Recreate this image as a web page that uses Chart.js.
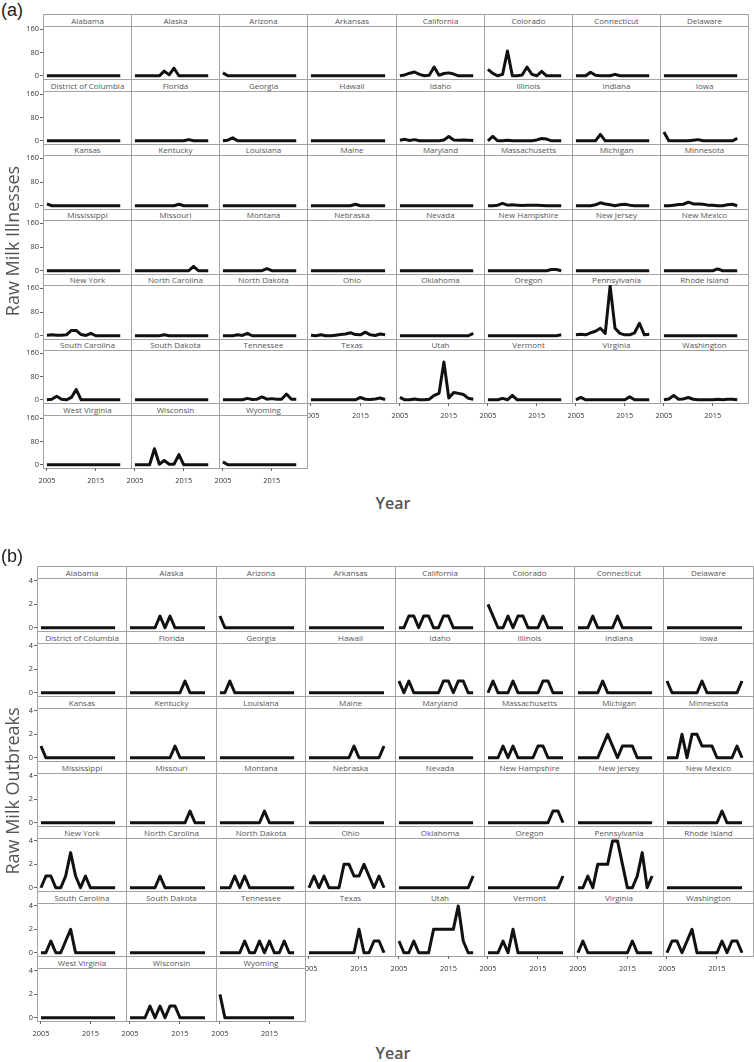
<!DOCTYPE html>
<html>
<head>
<meta charset="utf-8">
<script src="https://cdn.jsdelivr.net/npm/chart.js@4.4.1/dist/chart.umd.min.js"></script>
<style>
  body { margin: 0; background: #fff; }
  #page { position: relative; width: 754px; height: 1062px; overflow: hidden; font-family: "Open Sans", sans-serif; }
  .strip { position: absolute; box-sizing: border-box; border: 1px solid #a3a3a3; background: #fff; color: #555;
           font-size: 8px; text-align: center; white-space: nowrap; overflow: hidden; opacity: 0.999; }
  .plot { position: absolute; box-sizing: border-box; border: 1px solid #a3a3a3; background: #fff; }
  canvas { position: absolute; }
  .lbl { position: absolute; color: #555; white-space: nowrap; }
</style>
</head>
<body>
<div id="page"></div>
<script>
// data, one row per state, years 2005..2020
const years = [2005, 2006, 2007, 2008, 2009, 2010, 2011, 2012, 2013, 2014, 2015, 2016, 2017, 2018, 2019, 2020];
const yearTicks = [2005, 2015];
const illnessTicks = [0, 80, 160];
const outbreakTicks = [0, 2, 4];

const states = [
  'Alabama', 'Alaska', 'Arizona', 'Arkansas', 'California', 'Colorado', 'Connecticut', 'Delaware',
  'District of Columbia', 'Florida', 'Georgia', 'Hawaii', 'Idaho', 'Illinois', 'Indiana', 'Iowa',
  'Kansas', 'Kentucky', 'Louisiana', 'Maine', 'Maryland', 'Massachusetts', 'Michigan', 'Minnesota',
  'Mississippi', 'Missouri', 'Montana', 'Nebraska', 'Nevada', 'New Hampshire', 'New Jersey', 'New Mexico',
  'New York', 'North Carolina', 'North Dakota', 'Ohio', 'Oklahoma', 'Oregon', 'Pennsylvania', 'Rhode Island',
  'South Carolina', 'South Dakota', 'Tennessee', 'Texas', 'Utah', 'Vermont', 'Virginia', 'Washington',
  'West Virginia', 'Wisconsin', 'Wyoming'
];

const illnesses = [
  [0,0,0,0,0,0,0,0,0,0,0,0,0,0,0,0],        // Alabama
  [0,0,0,0,0,0,16,3,26,0,0,0,0,0,0,0],      // Alaska
  [10,0,0,0,0,0,0,0,0,0,0,0,0,0,0,0],       // Arizona
  [0,0,0,0,0,0,0,0,0,0,0,0,0,0,0,0],        // Arkansas
  [0,3,9,13,5,0,2,30,2,8,10,6,0,0,0,0],     // California
  [22,8,0,5,85,0,0,3,30,5,0,15,0,0,0,0],    // Colorado
  [0,0,0,12,2,0,0,0,5,0,0,0,0,0,0,0],       // Connecticut
  [0,0,0,0,0,0,0,0,0,0,0,0,0,0,0,0],        // Delaware
  [0,0,0,0,0,0,0,0,0,0,0,0,0,0,0,0],        // District of Columbia
  [0,0,0,0,0,0,0,0,0,0,0,4,0,0,0,0],        // Florida
  [0,2,10,0,0,0,0,0,0,0,0,0,0,0,0,0],       // Georgia
  [0,0,0,0,0,0,0,0,0,0,0,0,0,0,0,0],        // Hawaii
  [2,5,1,4,0,0,0,0,0,3,15,3,2,3,2,1],       // Idaho
  [0,15,0,0,2,0,0,0,0,0,3,8,6,0,0,0],       // Illinois
  [0,0,0,0,0,22,0,0,0,0,0,0,0,0,0,0],       // Indiana
  [30,0,0,0,0,0,2,4,0,0,0,0,0,0,0,8],       // Iowa
  [6,0,0,0,0,0,0,0,0,0,0,0,0,0,0,0],        // Kansas
  [0,0,0,0,0,0,0,0,0,5,0,0,0,0,0,0],        // Kentucky
  [0,0,0,0,0,0,0,0,0,0,0,0,0,0,0,0],        // Louisiana
  [0,0,0,0,0,0,0,0,0,5,0,0,0,0,0,0],        // Maine
  [0,0,0,0,0,0,0,0,0,0,0,0,0,0,0,0],        // Maryland
  [0,0,2,8,2,3,2,1,2,2,2,1,0,0,0,0],        // Massachusetts
  [0,0,0,0,3,10,6,3,0,3,5,2,0,0,0,0],       // Michigan
  [0,0,2,4,5,12,6,6,5,2,2,0,0,3,5,0],       // Minnesota
  [0,0,0,0,0,0,0,0,0,0,0,0,0,0,0,0],        // Mississippi
  [0,0,0,0,0,0,0,0,0,0,0,0,15,0,0,0],       // Missouri
  [0,0,0,0,0,0,0,0,0,7,0,0,0,0,0,0],        // Montana
  [0,0,0,0,0,0,0,0,0,0,0,0,0,0,0,0],        // Nebraska
  [0,0,0,0,0,0,0,0,0,0,0,0,0,0,0,0],        // Nevada
  [0,0,0,0,0,0,0,0,0,0,0,0,0,4,4,0],        // New Hampshire
  [0,0,0,0,0,0,0,0,0,0,0,0,0,0,0,0],        // New Jersey
  [0,0,0,0,0,0,0,0,0,0,0,6,0,0,0,0],        // New Mexico
  [2,3,2,2,3,18,18,4,1,8,0,0,0,0,0,0],      // New York
  [0,0,0,0,0,0,3,0,0,0,0,0,0,0,0,0],        // North Carolina
  [0,0,0,3,1,8,0,0,0,0,0,0,0,0,0,0],        // North Dakota
  [2,0,3,0,0,2,4,6,10,4,3,12,3,1,6,3],      // Ohio
  [0,0,0,0,0,0,0,0,0,0,0,0,0,0,0,8],        // Oklahoma
  [0,0,0,0,0,0,0,0,0,0,0,0,0,0,0,3],        // Oregon
  [3,5,3,10,15,25,8,168,25,8,3,3,10,42,3,5],// Pennsylvania
  [0,0,0,0,0,0,0,0,0,0,0,0,0,0,0,0],        // Rhode Island
  [0,2,12,2,0,8,35,0,0,0,0,0,0,0,0,0],      // South Carolina
  [0,0,0,0,0,0,0,0,0,0,0,0,0,0,0,0],        // South Dakota
  [0,0,0,0,0,5,1,2,10,2,4,2,2,20,2,2],      // Tennessee
  [0,0,0,0,0,0,0,0,0,0,8,2,1,3,6,1],        // Texas
  [8,0,0,3,0,0,2,15,22,130,6,25,22,18,5,2], // Utah
  [0,0,0,5,0,15,0,0,0,0,0,0,0,0,0,0],       // Vermont
  [0,8,0,0,0,0,0,0,0,0,0,10,0,0,0,0],       // Virginia
  [0,3,15,2,3,8,2,0,0,0,0,2,0,2,2,0],       // Washington
  [0,0,0,0,0,0,0,0,0,0,0,0,0,0,0,0],        // West Virginia
  [0,0,0,0,55,2,15,2,2,35,0,0,0,0,0,0],     // Wisconsin
  [10,0,0,0,0,0,0,0,0,0,0,0,0,0,0,0]        // Wyoming
];

const outbreaks = [
  [0,0,0,0,0,0,0,0,0,0,0,0,0,0,0,0],  // Alabama
  [0,0,0,0,0,0,1,0,1,0,0,0,0,0,0,0],  // Alaska
  [1,0,0,0,0,0,0,0,0,0,0,0,0,0,0,0],  // Arizona
  [0,0,0,0,0,0,0,0,0,0,0,0,0,0,0,0],  // Arkansas
  [0,0,1,1,0,1,1,0,0,1,1,0,0,0,0,0],  // California
  [2,1,0,0,1,0,1,1,0,0,0,1,0,0,0,0],  // Colorado
  [0,0,0,1,0,0,0,0,1,0,0,0,0,0,0,0],  // Connecticut
  [0,0,0,0,0,0,0,0,0,0,0,0,0,0,0,0],  // Delaware
  [0,0,0,0,0,0,0,0,0,0,0,0,0,0,0,0],  // District of Columbia
  [0,0,0,0,0,0,0,0,0,0,0,1,0,0,0,0],  // Florida
  [0,0,1,0,0,0,0,0,0,0,0,0,0,0,0,0],  // Georgia
  [0,0,0,0,0,0,0,0,0,0,0,0,0,0,0,0],  // Hawaii
  [1,0,1,0,0,0,0,0,0,1,1,0,1,1,0,0],  // Idaho
  [0,1,0,0,0,1,0,0,0,0,0,1,1,0,0,0],  // Illinois
  [0,0,0,0,0,1,0,0,0,0,0,0,0,0,0,0],  // Indiana
  [1,0,0,0,0,0,0,1,0,0,0,0,0,0,0,1],  // Iowa
  [1,0,0,0,0,0,0,0,0,0,0,0,0,0,0,0],  // Kansas
  [0,0,0,0,0,0,0,0,0,1,0,0,0,0,0,0],  // Kentucky
  [0,0,0,0,0,0,0,0,0,0,0,0,0,0,0,0],  // Louisiana
  [0,0,0,0,0,0,0,0,0,1,0,0,0,0,0,1],  // Maine
  [0,0,0,0,0,0,0,0,0,0,0,0,0,0,0,0],  // Maryland
  [0,0,0,1,0,1,0,0,0,0,1,1,0,0,0,0],  // Massachusetts
  [0,0,0,0,0,1,2,1,0,1,1,1,0,0,0,0],  // Michigan
  [0,0,0,2,0,2,2,1,1,1,0,0,0,0,1,0],  // Minnesota
  [0,0,0,0,0,0,0,0,0,0,0,0,0,0,0,0],  // Mississippi
  [0,0,0,0,0,0,0,0,0,0,0,0,1,0,0,0],  // Missouri
  [0,0,0,0,0,0,0,0,0,1,0,0,0,0,0,0],  // Montana
  [0,0,0,0,0,0,0,0,0,0,0,0,0,0,0,0],  // Nebraska
  [0,0,0,0,0,0,0,0,0,0,0,0,0,0,0,0],  // Nevada
  [0,0,0,0,0,0,0,0,0,0,0,0,0,1,1,0],  // New Hampshire
  [0,0,0,0,0,0,0,0,0,0,0,0,0,0,0,0],  // New Jersey
  [0,0,0,0,0,0,0,0,0,0,0,1,0,0,0,0],  // New Mexico
  [0,1,1,0,0,1,3,1,0,1,0,0,0,0,0,0],  // New York
  [0,0,0,0,0,0,1,0,0,0,0,0,0,0,0,0],  // North Carolina
  [0,0,0,1,0,1,0,0,0,0,0,0,0,0,0,0],  // North Dakota
  [0,1,0,1,0,0,0,2,2,1,1,2,1,0,1,0],  // Ohio
  [0,0,0,0,0,0,0,0,0,0,0,0,0,0,0,1],  // Oklahoma
  [0,0,0,0,0,0,0,0,0,0,0,0,0,0,0,1],  // Oregon
  [0,0,1,0,2,2,2,4,4,2,0,0,1,3,0,1],  // Pennsylvania
  [0,0,0,0,0,0,0,0,0,0,0,0,0,0,0,0],  // Rhode Island
  [0,0,1,0,0,1,2,0,0,0,0,0,0,0,0,0],  // South Carolina
  [0,0,0,0,0,0,0,0,0,0,0,0,0,0,0,0],  // South Dakota
  [0,0,0,0,0,1,0,0,1,0,1,0,0,1,0,0],  // Tennessee
  [0,0,0,0,0,0,0,0,0,0,2,0,0,1,1,0],  // Texas
  [1,0,0,1,0,0,0,2,2,2,2,2,4,1,0,0],  // Utah
  [0,0,0,1,0,2,0,0,0,0,0,0,0,0,0,0],  // Vermont
  [0,1,0,0,0,0,0,0,0,0,0,1,0,0,0,0],  // Virginia
  [0,1,1,0,1,2,0,0,0,0,0,1,0,1,1,0],  // Washington
  [0,0,0,0,0,0,0,0,0,0,0,0,0,0,0,0],  // West Virginia
  [0,0,0,0,1,0,1,0,1,1,0,0,0,0,0,0],  // Wisconsin
  [2,0,0,0,0,0,0,0,0,0,0,0,0,0,0,0]   // Wyoming
];

// layout of the two facet grids
const panels = [
  { tag: '(a)', tagTop: 0, title: 'Raw Milk Illnesses', titleY: 241, yearY: 503,
    values: illnesses, ticks: illnessTicks, yMin: -11, yMax: 171,
    left: 42.7, top: 14, colW: 88.2, pitch: 64.9, strip: 11.6 },
  { tag: '(b)', tagTop: 546, title: 'Raw Milk Outbreaks', titleY: 791, yearY: 1053,
    values: outbreaks, ticks: outbreakTicks, yMin: -0.28, yMax: 4.25,
    left: 36.7, top: 565.5, colW: 89.5, pitch: 65, strip: 12.2 }
];

Chart.defaults.font.family = '"Open Sans", sans-serif';
const page = document.getElementById('page');
const tickFont = { size: 7.4 };

function label(text, css) {
  const d = document.createElement('div');
  d.className = 'lbl';
  d.textContent = text;
  Object.assign(d.style, css);
  page.appendChild(d);
  return d;
}

function addFacet(p, i) {
  const row = Math.floor(i / 8), col = i % 8;
  const x0 = Math.round(p.left + col * p.colW);
  const x1 = Math.round(p.left + (col + 1) * p.colW);
  const y0 = Math.round(p.top + row * p.pitch);
  const py = Math.round(p.top + row * p.pitch + p.strip);
  const y1 = Math.round(p.top + (row + 1) * p.pitch);
  const w = x1 - x0, ph = y1 - py;
  const isLeft = col === 0;
  const isBottom = row === 6 || (row === 5 && col >= 3);

  const strip = document.createElement('div');
  strip.className = 'strip';
  strip.textContent = states[i];
  Object.assign(strip.style, { left: x0 + 'px', top: y0 + 'px', width: (w + 1) + 'px', height: (py - y0 + 1) + 'px',
    lineHeight: (py - y0 - 1) + 'px' });
  page.appendChild(strip);

  const box = document.createElement('div');
  box.className = 'plot';
  Object.assign(box.style, { left: x0 + 'px', top: py + 'px', width: (w + 1) + 'px', height: (ph + 1) + 'px' });
  page.appendChild(box);

  const L = isLeft ? 34 : (isBottom ? 14 : 0);
  const R = isBottom ? 14 : 0;
  const T = isLeft ? 6 : 0;
  const B = isBottom ? 21 : (isLeft ? 5 : 0);

  const cv = document.createElement('canvas');
  cv.width = w + L + R;
  cv.height = ph + T + B;
  Object.assign(cv.style, { left: (x0 - L) + 'px', top: (py - T) + 'px', width: cv.width + 'px', height: cv.height + 'px' });
  page.appendChild(cv);

  new Chart(cv.getContext('2d'), {
    type: 'line',
    data: {
      datasets: [{
        data: years.map((yr, k) => ({ x: yr, y: p.values[i][k] })),
        borderColor: '#111',
        borderWidth: 3,
        pointRadius: 0,
        tension: 0,
        borderJoinStyle: 'round',
        borderCapStyle: 'butt'
      }]
    },
    options: {
      responsive: false,
      animation: false,
      devicePixelRatio: 1,
      events: [],
      layout: { padding: { left: isLeft ? 0 : L, right: R, top: T, bottom: isBottom ? 0 : B } },
      plugins: { legend: { display: false }, tooltip: { enabled: false } },
      scales: {
        x: {
          type: 'linear', min: 2004.2, max: 2022.2, display: isBottom,
          border: { display: false },
          grid: { drawOnChartArea: false, drawTicks: true, tickLength: 3, color: '#666' },
          ticks: { font: tickFont, color: '#333', padding: 5, maxRotation: 0, autoSkip: false,
                   callback: v => String(v) },
          afterBuildTicks: s => { s.ticks = yearTicks.map(v => ({ value: v })); },
          afterFit: s => {
            if (!isBottom) { s.height = 0; return; }
            s.height = B; s.paddingLeft = 0; s.paddingRight = 0;
          }
        },
        y: {
          type: 'linear', min: p.yMin, max: p.yMax, display: isLeft,
          border: { display: false },
          grid: { drawOnChartArea: false, drawTicks: true, tickLength: 3, color: '#666' },
          ticks: { font: tickFont, color: '#333', padding: 1, autoSkip: false },
          afterBuildTicks: s => { s.ticks = p.ticks.map(v => ({ value: v })); },
          afterFit: s => {
            if (!isLeft) { s.width = 0; return; }
            s.width = L; s.paddingTop = 0; s.paddingBottom = 0;
          }
        }
      }
    }
  });
}

panels.forEach(p => {
  label(p.tag, { left: '1px', top: p.tagTop + 'px', fontSize: '18px', color: '#222',
                 fontFamily: '"Liberation Sans", Arial, sans-serif' });
  states.forEach((s, i) => addFacet(p, i));
  label(p.title, { left: (12 - 150) + 'px', top: (p.titleY - 12) + 'px', width: '300px', height: '24px',
                   lineHeight: '24px', textAlign: 'center', fontSize: '18px', transform: 'rotate(-90deg)' });
  label('Year', { left: '343px', top: (p.yearY - 12) + 'px', width: '100px', lineHeight: '24px',
                  textAlign: 'center', fontSize: '16px', fontWeight: '600' });
});
</script>
</body>
</html>
